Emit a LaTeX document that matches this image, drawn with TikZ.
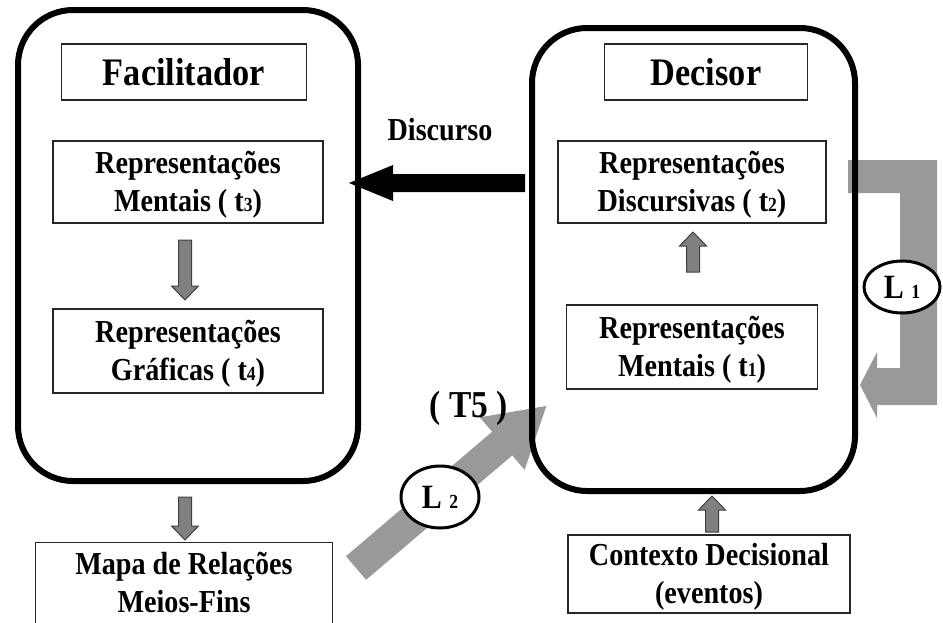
\documentclass[tikz,border=0pt]{standalone}
\usepackage{fontspec}
\setmainfont{Liberation Serif}[FakeStretch=0.88]
\usetikzlibrary{shapes.geometric}

% small digit used in the labels t1..t4 and L1, L2
\newcommand{\smdigit}[1]{{\fontsize{20}{20}\selectfont #1}}
% two centred lines, set a little below the middle of their box
\newcommand{\twolines}[2]{\raisebox{-3pt}[\height][\depth]{\begin{tabular}{@{}c@{}}#1\\#2\end{tabular}}}

\tikzset{
  frame/.style={draw, line width=6pt, rounded corners=55pt, inner sep=0pt},
  boxline/.style={draw=black!85, line width=1.2pt},
  textbox/.style={boxline, fill=white, inner sep=0pt,
    font=\fontsize{32}{38}\selectfont\bfseries},
  titlebox/.style={textbox, font=\fontsize{39}{42}\selectfont\bfseries},
  smallarrow/.style={fill=black!50, draw=black!75, line width=1pt},
  looparrow/.style={fill=black!40, draw=none},
  loopmark/.style={ellipse, draw, line width=3pt, fill=white, inner sep=0pt,
    font=\fontsize{34}{34}\selectfont\bfseries},
  % block arrow: length / shaft half width / head half width / head length
  pics/blockarrow/.style args={#1/#2/#3/#4}{
    code={
      \path[pic actions] (0,#2) -- ({#1-#4},#2) -- ({#1-#4},#3) -- (#1,0)
        -- ({#1-#4},-#3) -- ({#1-#4},-#2) -- (0,-#2) -- cycle;
    }
  },
}

\begin{document}
\begin{tikzpicture}[x=1pt, y=-1pt]
\useasboundingbox (0,0) rectangle (943,622);

% anchor points of the wide grey links
\coordinate (l2tail) at (356,568);
\coordinate (l1top)  at (848,160);

% L1: feedback loop on the right side of the decision maker
\path[looparrow] (l1top) -- (937,160) -- (937,405) -- (877,405) -- (877,418)
  -- (860,385) -- (877,352) -- (877,368) -- (900,368) -- (900,193)
  -- (848,193) -- cycle;

% L2: from the means-ends map back to the decision maker
\pic[looparrow, rotate=40.4] at (l2tail) {blockarrow=250/15.5/34.5/58};

% the two actors
\node[frame, minimum width=340pt, minimum height=471pt] (facil) at (188,245.5) {};
\node[frame, minimum width=323pt, minimum height=463pt] (decis) at (693.5,259.5) {};

% facilitator side
\node[titlebox, minimum width=245pt, minimum height=56pt] (ftitle) at (184,72) {Facilitador};
\node[textbox, minimum width=270pt, minimum height=82pt] (t3) at (188,182)
  {\twolines{Representações}{Mentais ( t\smdigit{3})}};
\node[textbox, minimum width=270pt, minimum height=84pt] (t4) at (188,351)
  {\twolines{Representações}{Gráficas ( t\smdigit{4})}};
% the map box runs off the lower edge, so only three sides are drawn
\node[textbox, draw=none, fill=none, minimum width=296pt, minimum height=79pt] (mapa)
  at (184,582.5) {\twolines{Mapa de Relações}{Meios-Fins}};
\draw[boxline] (mapa.south west) -- (mapa.north west) -- (mapa.north east) -- (mapa.south east);

% decision maker side
\node[titlebox, minimum width=203pt, minimum height=56pt] (dtitle) at (706,72) {Decisor};
\node[textbox, minimum width=268pt, minimum height=82pt] (t2) at (692,182)
  {\twolines{Representações}{Discursivas ( t\smdigit{2})}};
\node[textbox, minimum width=251pt, minimum height=84pt] (t1) at (692,347)
  {\twolines{Representações}{Mentais ( t\smdigit{1})}};
\node[textbox, minimum width=282pt, minimum height=78pt] (ctx) at (709,574)
  {\twolines{Contexto Decisional}{(eventos)}};

% discourse from decision maker to facilitator
\coordinate (dstart) at (525,183);
\pic[fill=black, rotate=180] at (dstart) {blockarrow=176/9/18/44};
\node[font=\fontsize{32}{34}\selectfont\bfseries, anchor=base] (disc) at (440,140) {Discurso};

% small grey step arrows
\coordinate (a34) at (185,240);
\coordinate (a12) at (693,272);
\coordinate (afm) at (185,497);
\coordinate (acx) at (712,532);
\pic[smallarrow, rotate=-90] at (a34) {blockarrow=60/6.5/13.5/14};
\pic[smallarrow, rotate=90]  at (a12) {blockarrow=40/6.5/13.5/14};
\pic[smallarrow, rotate=-90] at (afm) {blockarrow=43/6.5/13.5/14};
\pic[smallarrow, rotate=90]  at (acx) {blockarrow=36/6.5/13.5/14};

% loop labels
\node[loopmark, minimum width=76pt, minimum height=52pt] (l1) at (902,287) {L \smdigit{1}};
\node[loopmark, minimum width=78pt, minimum height=62pt] (l2) at (440,497) {L \smdigit{2}};
\node[font=\fontsize{38}{40}\selectfont\bfseries, anchor=base] (t5) at (469,417) {( T5 )};
\end{tikzpicture}
\end{document}
